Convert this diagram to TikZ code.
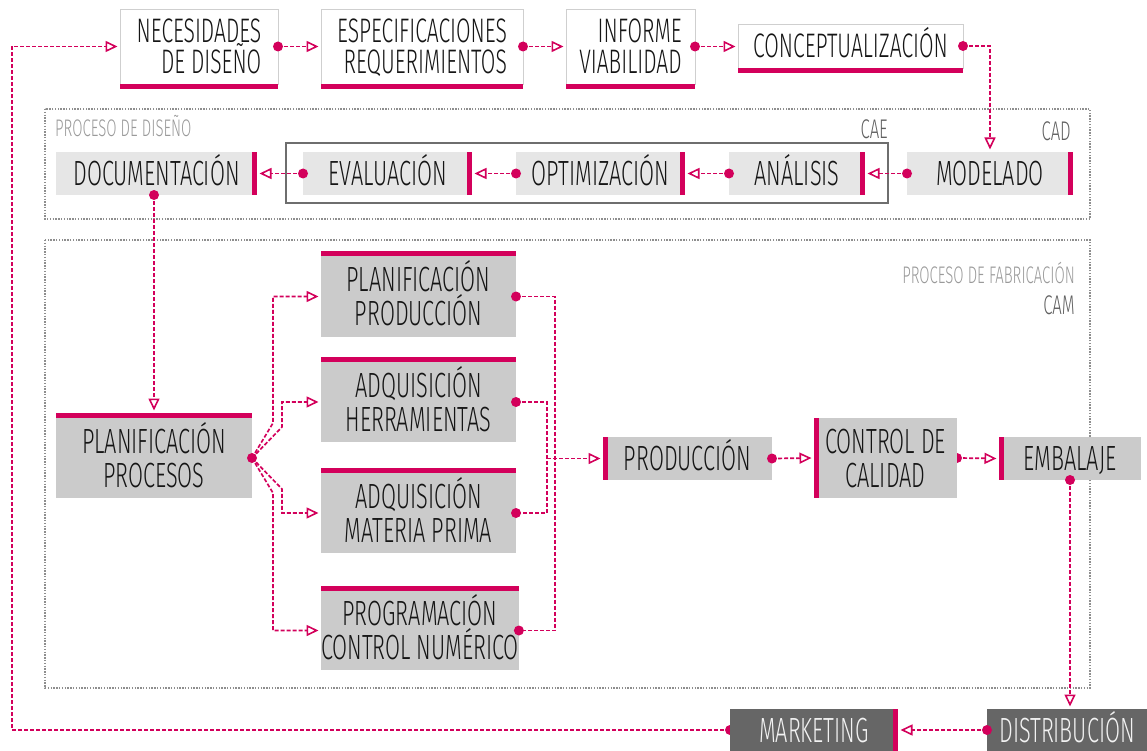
\documentclass[tikz,border=0pt]{standalone}
\usepackage{fontspec}
\newfontfamily\condfont[FakeStretch=0.62]{Fira Sans Light}
\usetikzlibrary{arrows.meta,backgrounds}
\definecolor{mag}{HTML}{D3005B}
\definecolor{ink}{HTML}{151515}
\definecolor{edgegray}{HTML}{CFCFCF}
\definecolor{dsnfill}{HTML}{E6E6E6}
\definecolor{fabfill}{HTML}{CBCBCB}
\definecolor{darkfill}{HTML}{666666}
\definecolor{lighttext}{HTML}{F2F2F2}
\definecolor{framegray}{HTML}{8E8E8E}
\definecolor{caegray}{HTML}{6E6E6E}
\definecolor{paletext}{HTML}{9A9A9A}
\definecolor{toolgray}{HTML}{606060}
\newcommand\srcdot[1]{\fill[mag] (#1) circle (5pt);}
\begin{document}
\begin{tikzpicture}[x=1pt,y=-1pt,
  lbl/.style={font=\condfont\fontsize{35}{34}\selectfont, text=ink, inner sep=0pt,
    outer sep=0pt, anchor=north west, align=center, text height=24.1pt, text depth=0pt},
  twolines/.style={text height=58.1pt, text depth=0pt},
  topbox/.style={lbl, fill=white, draw=edgegray, line width=0.8pt, align=right,
    font=\condfont\fontsize{34}{31}\selectfont, text height=23.4pt},
  toptwo/.style={text height=54.4pt, text depth=0pt},
  dsn/.style={lbl, fill=dsnfill},
  fab/.style={lbl, fill=fabfill},
  dark/.style={lbl, fill=darkfill, text=lighttext},
  rightbar/.style={path picture={\fill[mag] ([xshift=-5pt]path picture bounding box.north east)
    rectangle (path picture bounding box.south east);}},
  leftbar/.style={path picture={\fill[mag] (path picture bounding box.north west)
    rectangle ([xshift=5pt]path picture bounding box.south west);}},
  smalllbl/.style={font=\condfont\fontsize{24}{24}\selectfont, text=paletext, inner sep=0pt},
  toollbl/.style={font=\condfont\fontsize{27}{27}\selectfont, text=toolgray, inner sep=0pt},
  dotframe/.style={draw=framegray, line width=1.4pt, dash pattern=on 1.4pt off 1.4pt},
  caeframe/.style={draw=caegray, line width=1.8pt},
  flow/.style={draw=mag, line width=1.7pt, dash pattern=on 4pt off 2pt, shorten >=2.5pt,
    -{Triangle[fill=white, length=12pt, width=11pt, line width=1.6pt]}},
  link/.style={draw=mag, line width=1.7pt, dash pattern=on 4pt off 2pt}
]
\useasboundingbox (0,0) rectangle (1147,751);

% process frames
\draw[dotframe] (45,109) rectangle (1090,219);
\draw[dotframe] (45,240) rectangle (1090,688);
\draw[caeframe] (286,143) rectangle (888,203);

\node[smalllbl, anchor=base west] (pdis) at (55,137) {PROCESO DE DISEÑO};
\node[toollbl, anchor=base east] (cae) at (888,139) {CAE};
\node[toollbl, anchor=base east] (cad) at (1071,141) {CAD};
\node[smalllbl, anchor=base east] (pfab) at (1075,283) {PROCESO DE FABRICACIÓN};
\node[toollbl, anchor=base east] (cam) at (1075,314) {CAM};

% top row
\node[topbox, toptwo, minimum width=158pt, minimum height=75pt] (nec) at (120,9) {NECESIDADES\\DE DISEÑO};
\node[topbox, toptwo, minimum width=202pt, minimum height=75pt] (esp) at (321,9) {ESPECIFICACIONES\\REQUERIMIENTOS};
\node[topbox, toptwo, minimum width=129pt, minimum height=75pt] (inf) at (566,9) {INFORME\\VIABILIDAD};
\node[topbox, align=center, minimum width=225pt, minimum height=44pt] (con) at (738,24) {CONCEPTUALIZACIÓN};
\foreach \n in {nec,esp,inf,con}
  \fill[mag] (\n.south west) rectangle ([yshift=-5pt]\n.south east);

% design row
\node[dsn, rightbar, minimum width=201pt, minimum height=43pt] (doc) at (56,152) {DOCUMENTACIÓN};
\node[dsn, rightbar, minimum width=169pt, minimum height=43pt] (eva) at (303,152) {EVALUACIÓN};
\node[dsn, rightbar, minimum width=169pt, minimum height=43pt] (opt) at (516,152) {OPTIMIZACIÓN};
\node[dsn, rightbar, minimum width=136pt, minimum height=43pt] (ana) at (729,152) {ANÁLISIS};
\node[dsn, rightbar, minimum width=166pt, minimum height=43pt] (mod) at (907,152) {MODELADO};

% manufacturing
\node[fab, twolines, minimum width=196pt, minimum height=80pt] (pp) at (56,418) {PLANIFICACIÓN\\PROCESOS};
\node[fab, twolines, minimum width=195pt, minimum height=81pt] (ppr) at (321,256) {PLANIFICACIÓN\\PRODUCCIÓN};
\node[fab, twolines, minimum width=195pt, minimum height=80pt] (ah) at (321,362) {ADQUISICIÓN\\HERRAMIENTAS};
\node[fab, twolines, minimum width=195pt, minimum height=80pt] (am) at (321,473) {ADQUISICIÓN\\MATERIA PRIMA};
\node[fab, twolines, minimum width=195pt, minimum height=79pt] (pcn) at (321,591) {PROGRAMACIÓN\\CONTROL NUMÉRICO};
\foreach \n in {pp,ppr,ah,am,pcn}
  \fill[mag] (\n.north west) rectangle ([yshift=5pt]\n.north east);
\node[fab, leftbar, minimum width=169pt, minimum height=43pt] (prod) at (603,437) {PRODUCCIÓN};
\node[fab, leftbar, twolines, minimum width=143pt, minimum height=80pt] (cc) at (814,418) {CONTROL DE\\CALIDAD};
\node[fab, leftbar, minimum width=142pt, minimum height=43pt] (emb) at (999,437) {EMBALAJE};

% distribution
\node[dark, rightbar, minimum width=168pt, minimum height=42pt] (mkt) at (730,709) {MARKETING};
\node[dark, minimum width=160pt, minimum height=42pt] (dist) at (987,709) {DISTRIBUCIÓN};

% connectors
\draw[flow] (nec.east) -- (esp.west); \srcdot{nec.east}
\draw[flow] (esp.east) -- (inf.west); \srcdot{esp.east}
\draw[flow] (inf.east) -- (inf.east -| con.west); \srcdot{inf.east}
\draw[flow] (con.east) -| (mod.north); \srcdot{con.east}

\draw[flow] (mod.west) -- (ana.east); \srcdot{mod.west}
\draw[flow] (ana.west) -- (opt.east); \srcdot{ana.west}
\draw[flow] (opt.west) -- (eva.east); \srcdot{opt.west}
\draw[flow] (eva.west) -- (doc.east); \srcdot{eva.west}
\draw[flow] (pp.north |- doc.south) -- ([yshift=5pt]pp.north); \srcdot{pp.north |- doc.south}

\draw[flow] (pp.east) -- (273,423) |- (ppr.west);
\draw[flow] (pp.east) -- (282,427) |- (ah.west);
\draw[flow] (pp.east) -- (282,489) |- (am.west);
\draw[flow] (pp.east) -- (273,493) |- (pcn.west);
\srcdot{pp.east}

\draw[link] (ppr.east) -- ++(39,0) |- (pcn.east); \srcdot{ppr.east} \srcdot{pcn.east}
\draw[link] (ah.east) -- ++(31,0) |- (am.east); \srcdot{ah.east} \srcdot{am.east}
\coordinate (merge) at (547,458.5);
\draw[flow] (merge) -- (prod.west);

\draw[flow] (prod.east) -- (cc.west); \srcdot{prod.east}
\draw[flow] (cc.east) -- (emb.west);
\draw[flow] (emb.south) -- (emb.south |- dist.north); \srcdot{emb.south}
\draw[flow] (dist.west) -- (mkt.east); \srcdot{dist.west}
\coordinate (loopx) at (12,0);
\draw[flow] (mkt.west) -- (mkt.west -| loopx) |- (nec.west);

\begin{pgfonlayer}{background}
  \srcdot{cc.east}
  \srcdot{mkt.west}
\end{pgfonlayer}
\end{tikzpicture}
\end{document}
